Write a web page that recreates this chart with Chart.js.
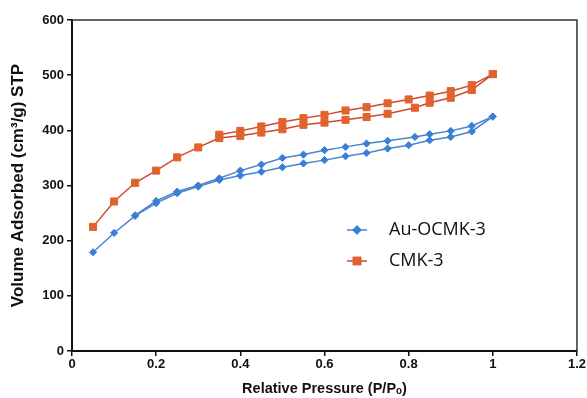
<!DOCTYPE html>
<html>
<head>
<meta charset="utf-8">
<script src="https://cdn.jsdelivr.net/npm/chart.js@4/dist/chart.umd.min.js"></script>
<style>
  html, body { margin: 0; padding: 0; background: #fff; }
  #wrap { width: 587px; height: 398px; }
</style>
</head>
<body>
<div id="wrap"><canvas id="isoChart" width="587" height="398"></canvas></div>
<script>
// Au-OCMK-3: adsorção (ramo de baixo) e dessorção (ramo de cima)
const auAdsX = [0.05, 0.1, 0.15, 0.2, 0.25, 0.3, 0.35, 0.4, 0.45, 0.5, 0.55, 0.6, 0.65, 0.7, 0.75, 0.8, 0.85, 0.9, 0.95, 1.0];
const auAdsY = [179, 214, 245, 268, 286, 298, 310, 318, 325, 333, 340, 346, 353, 359, 367, 373, 382, 388, 398, 425];
const auDesX = [1.0, 0.95, 0.9, 0.85, 0.815, 0.75, 0.7, 0.65, 0.6, 0.55, 0.5, 0.45, 0.4, 0.35, 0.3, 0.25, 0.2, 0.15];
const auDesY = [425, 408, 399, 393, 388, 381, 376, 370, 364, 356, 350, 338, 327, 313, 300, 289, 272, 246];

// CMK-3
const cmkAdsX = [0.05, 0.1, 0.15, 0.2, 0.25, 0.3, 0.35, 0.4, 0.45, 0.5, 0.55, 0.6, 0.65, 0.7, 0.75, 0.815, 0.85, 0.9, 0.95, 1.0];
const cmkAdsY = [225, 271, 305, 327, 351, 369, 386, 390, 396, 402, 410, 414, 419, 424, 430, 441, 450, 459, 473, 502];
const cmkDesX = [1.0, 0.95, 0.9, 0.85, 0.8, 0.75, 0.7, 0.65, 0.6, 0.55, 0.5, 0.45, 0.4, 0.35];
const cmkDesY = [502, 482, 471, 463, 456, 449, 442, 436, 428, 422, 415, 407, 399, 392];

const seriesNames = ['Au-OCMK-3', 'CMK-3'];
const xTicks = [0, 0.2, 0.4, 0.6, 0.8, 1, 1.2];
const yTicks = [0, 100, 200, 300, 400, 500, 600];

const pts = (xs, ys) => xs.map((x, i) => ({ x: x, y: ys[i] }));

const blue = { line: '#4a85cf', fill: '#3a7fd6', style: 'rectRot', r: 3.6 };
const red = { line: '#cf4a2c', fill: '#e2622e', style: 'rect', r: 5 };

function ds(label, data, c) {
  return {
    label: label,
    data: data,
    showLine: true,
    borderColor: c.line,
    borderWidth: 1.5,
    backgroundColor: c.fill,
    pointBackgroundColor: c.fill,
    pointBorderColor: c.fill,
    pointBorderWidth: 1,
    pointStyle: c.style,
    pointRadius: c.r,
    tension: 0
  };
}

// moldura de cima e da direita
const frame = {
  id: 'frame',
  afterDraw(chart) {
    const { ctx, chartArea: a } = chart;
    ctx.save();
    ctx.strokeStyle = '#333';
    ctx.lineWidth = 1.5;
    ctx.beginPath();
    ctx.moveTo(a.left, a.top);
    ctx.lineTo(a.right, a.top);
    ctx.lineTo(a.right, a.bottom);
    ctx.stroke();
    ctx.restore();
  }
};

// legenda dentro da área do gráfico
const insideLegend = {
  id: 'insideLegend',
  afterDraw(chart) {
    const { ctx } = chart;
    const items = [
      { name: seriesNames[0], c: blue, y: 230 },
      { name: seriesNames[1], c: red, y: 261 }
    ];
    ctx.save();
    items.forEach(it => {
      ctx.strokeStyle = it.c.line;
      ctx.lineWidth = 1.5;
      ctx.beginPath();
      ctx.moveTo(347, it.y);
      ctx.lineTo(367, it.y);
      ctx.stroke();
      Chart.helpers.drawPoint(ctx, {
        pointStyle: it.c.style, radius: it.c.r, rotation: 0,
        borderWidth: 1
      }, 357, it.y);
      ctx.fillStyle = it.c.fill;
      ctx.strokeStyle = it.c.fill;
      ctx.fill();
      ctx.stroke();
      ctx.fillStyle = '#111';
      ctx.font = '18px "Open Sans", "Noto Sans", sans-serif';
      ctx.textBaseline = 'middle';
      ctx.textAlign = 'left';
      ctx.fillText(it.name, 389, it.y);
    });
    ctx.restore();
  }
};

const tickFont = { family: '"Liberation Sans", Arial, sans-serif', size: 13, weight: 'bold' };
const xTitleFont = { family: '"Liberation Sans", Arial, sans-serif', size: 14.5, weight: 'bold' };
const yTitleFont = { family: '"Liberation Sans", Arial, sans-serif', size: 17, weight: 'bold' };

new Chart(document.getElementById('isoChart').getContext('2d'), {
  type: 'scatter',
  data: {
    datasets: [
      ds(seriesNames[0], pts(auAdsX, auAdsY), blue),
      ds(seriesNames[0] + ' des', pts(auDesX, auDesY), blue),
      ds(seriesNames[1], pts(cmkAdsX, cmkAdsY), red),
      ds(seriesNames[1] + ' des', pts(cmkDesX, cmkDesY), red)
    ]
  },
  options: {
    responsive: false,
    animation: false,
    layout: { padding: { left: 0, top: 20, right: 9, bottom: 0 } },
    plugins: {
      legend: { display: false },
      tooltip: { enabled: false }
    },
    scales: {
      x: {
        type: 'linear',
        min: 0, max: 1.2,
        afterBuildTicks: s => { s.ticks = xTicks.map(v => ({ value: v })); },
        afterFit: s => { s.height = 47; },
        grid: { drawOnChartArea: false, drawTicks: true, tickLength: 5, color: '#111', lineWidth: 1.5 },
        border: { color: '#111', width: 2 },
        ticks: { color: '#111', font: tickFont, padding: 1, maxRotation: 0, callback: v => String(v) },
        title: { display: true, text: 'Relative Pressure (P/Pₒ)', color: '#111', font: xTitleFont, padding: { top: 1, bottom: 0 } }
      },
      y: {
        type: 'linear',
        min: 0, max: 600,
        afterBuildTicks: s => { s.ticks = yTicks.map(v => ({ value: v })); },
        afterFit: s => { s.width = 72; },
        grid: { drawOnChartArea: false, drawTicks: true, tickLength: 5, color: '#111', lineWidth: 1.5 },
        border: { color: '#111', width: 2 },
        ticks: { color: '#111', font: tickFont, padding: 3 },
        title: { display: true, text: 'Volume Adsorbed (cm³/g) STP', color: '#111', font: yTitleFont, padding: { top: 8, bottom: 0 } }
      }
    }
  },
  plugins: [frame, insideLegend]
});
</script>
</body>
</html>
